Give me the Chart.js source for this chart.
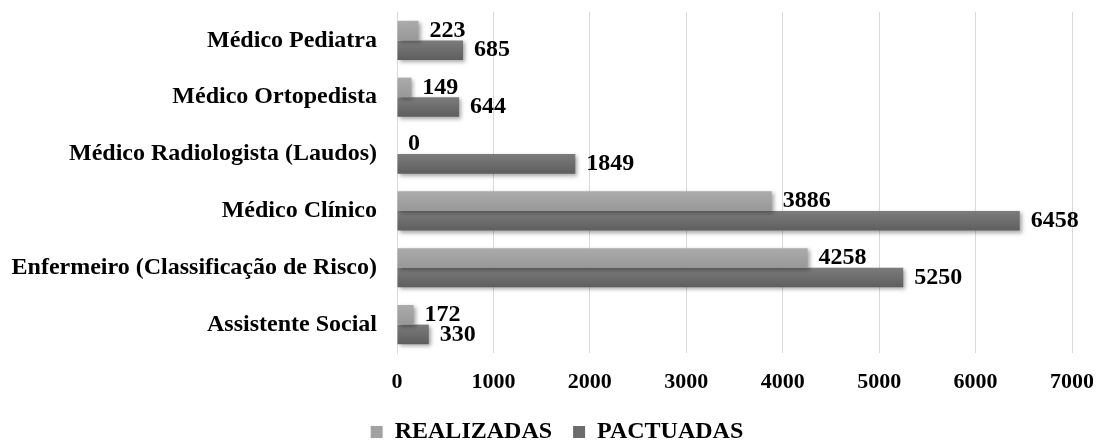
<!DOCTYPE html>
<html>
<head>
<meta charset="utf-8">
<script src="https://cdn.jsdelivr.net/npm/chart.js@4.4.0/dist/chart.umd.min.js"></script>
<style>
  html, body { margin: 0; padding: 0; background: #fff; }
  #wrap { width: 1099px; height: 441px; position: relative; }
</style>
</head>
<body>
<div id="wrap"><canvas id="chart"></canvas></div>
<script>
const categories = [
  "Médico Pediatra",
  "Médico Ortopedista",
  "Médico Radiologista (Laudos)",
  "Médico Clínico",
  "Enfermeiro (Classificação de Risco)",
  "Assistente Social"
];
const realizadas = [223, 149, 0, 3886, 4258, 172];
const pactuadas = [685, 644, 1849, 6458, 5250, 330];
const xTicks = [0, 1000, 2000, 3000, 4000, 5000, 6000, 7000];

const serif = "'Liberation Serif', 'Times New Roman', serif";
const catPct = 0.69;

// vertical gradient per bar, lighter on top
function barFill(top, bottom, upper) {
  return (context) => {
    const chart = context.chart;
    const yScale = chart.scales.y;
    if (!chart.chartArea || !yScale || context.dataIndex === undefined) return bottom;
    const mid = yScale.getPixelForValue(context.dataIndex);
    const h = (yScale.height / categories.length) * catPct / 2;
    const y0 = upper ? mid - h : mid;
    const g = chart.ctx.createLinearGradient(0, y0, 0, y0 + h);
    g.addColorStop(0, top);
    g.addColorStop(1, bottom);
    return g;
  };
}

// soft drop shadow under the bars, like the original
const shadowPlugin = {
  id: "barShadow",
  beforeDatasetsDraw(chart) {
    const c = chart.ctx;
    c.save();
    c.shadowColor = "rgba(0,0,0,0.35)";
    c.shadowBlur = 4;
    c.shadowOffsetX = 2;
    c.shadowOffsetY = 2;
  },
  afterDatasetsDraw(chart) {
    chart.ctx.restore();
  }
};

// legend sits a bit right of centre in the original
const legendShift = {
  id: "legendShift",
  afterLayout(chart) {
    if (chart.legend) chart.legend.left = 15;
  }
};

const labelPlugin = {
  id: "valueLabels",
  afterDatasetsDraw(chart) {
    const c = chart.ctx;
    c.save();
    c.font = "bold 24px " + serif;
    c.fillStyle = "#000";
    c.textBaseline = "middle";
    c.textAlign = "left";
    chart.data.datasets.forEach((ds, i) => {
      const meta = chart.getDatasetMeta(i);
      meta.data.forEach((bar, j) => {
        c.fillText(ds.data[j], bar.x + 11, bar.y);
      });
    });
    c.restore();
  }
};

new Chart(document.getElementById("chart"), {
  type: "bar",
  data: {
    labels: categories,
    datasets: [
      {
        label: "REALIZADAS",
        data: realizadas,
        backgroundColor: barFill("#ababab", "#989898", true),
        borderWidth: 0,
        categoryPercentage: catPct,
        barPercentage: 1
      },
      {
        label: "PACTUADAS",
        data: pactuadas,
        backgroundColor: barFill("#7c7c7c", "#5e5e5e", false),
        borderWidth: 0,
        categoryPercentage: catPct,
        barPercentage: 1
      }
    ]
  },
  options: {
    indexAxis: "y",
    responsive: true,
    maintainAspectRatio: false,
    animation: false,
    layout: { padding: { top: 0, right: 0, left: 0, bottom: -13 } },
    plugins: {
      legend: {
        position: "bottom",
        labels: {
          boxWidth: 12,
          boxHeight: 12,
          padding: 21,
          color: "#000",
          font: { family: serif, size: 24, weight: "bold" },
          generateLabels: (chart) => chart.data.datasets.map((ds, i) => ({
            text: ds.label,
            fillStyle: i === 0 ? "#a2a2a2" : "#6c6c6c",
            strokeStyle: "transparent",
            lineWidth: 0,
            datasetIndex: i,
            fontColor: "#000"
          }))
        }
      },
      tooltip: { enabled: false }
    },
    scales: {
      x: {
        min: 0,
        max: 7000,
        afterBuildTicks: (scale) => {
          scale.ticks = xTicks.map((v) => ({ value: v }));
        },
        afterFit: (scale) => {
          scale.height = 46;
          scale.paddingRight = 27;
        },
        grid: { color: "#d9d9d9", drawTicks: false },
        border: { display: false },
        ticks: {
          padding: 16,
          color: "#000",
          callback: (v) => String(v),
          font: { family: serif, size: 22, weight: "bold" }
        }
      },
      y: {
        grid: {
          display: true,
          drawOnChartArea: false,
          drawTicks: true,
          tickLength: 20,
          tickColor: "rgba(0,0,0,0)"
        },
        border: { display: true, color: "#d9d9d9" },
        afterFit: (scale) => { scale.width = 397; },
        ticks: {
          padding: 0,
          color: "#000",
          font: { family: serif, size: 24, weight: "bold", lineHeight: 1 }
        }
      }
    }
  },
  plugins: [shadowPlugin, labelPlugin, legendShift]
});
</script>
</body>
</html>
